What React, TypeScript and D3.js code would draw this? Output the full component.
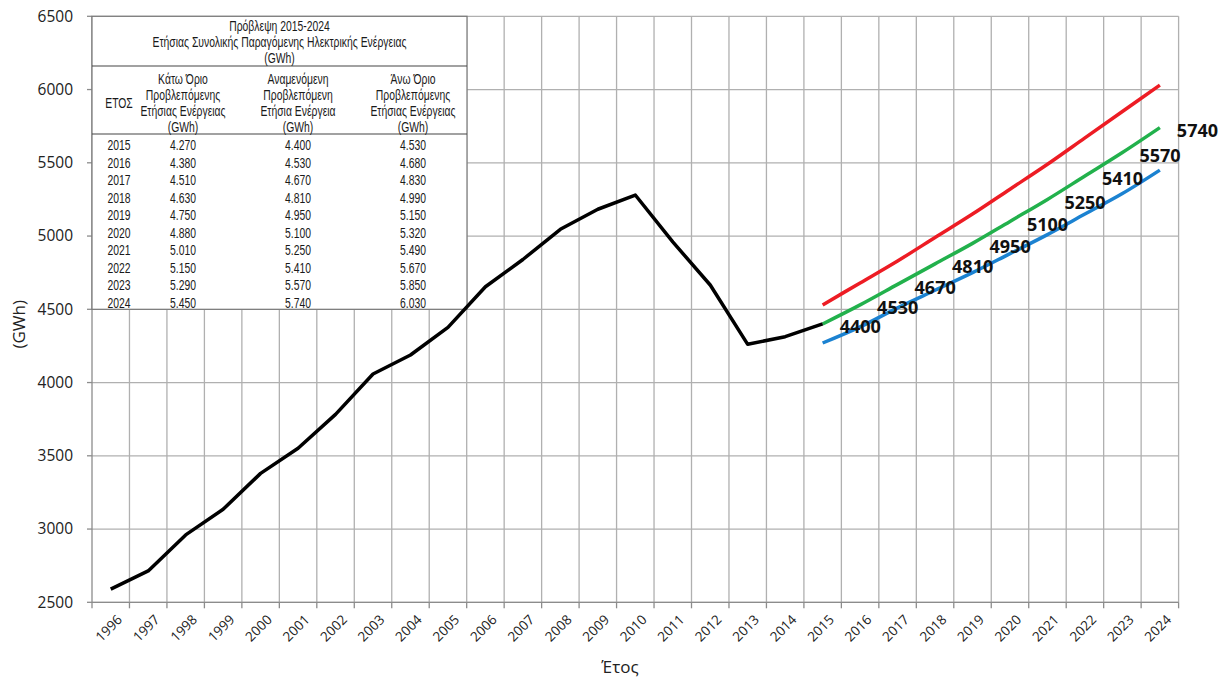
import React from "react";
import * as d3 from "d3";

const years = d3.range(1996, 2025).map(String);
const histYears = d3.range(1996, 2016).map(String);
const histValues = [2590, 2714, 2960, 3135, 3380, 3551, 3783, 4058, 4188, 4377, 4654, 4840, 5046, 5183, 5280, 4960, 4666, 4261, 4313, 4400];
const fcYears = d3.range(2015, 2025).map(String);
const lowValues = [4270, 4380, 4510, 4630, 4750, 4880, 5010, 5150, 5290, 5450];
const expValues = [4400, 4530, 4670, 4810, 4950, 5100, 5250, 5410, 5570, 5740];
const highValues = [4530, 4680, 4830, 4990, 5150, 5320, 5490, 5670, 5850, 6030];
const yTicks = d3.range(2500, 6501, 500);

const tableTitle = ["Πρόβλεψη 2015-2024", "Ετήσιας Συνολικής Παραγόμενης Ηλεκτρικής Ενέργειας", "(GWh)"];
const colHeaders = [
  ["ΕΤΟΣ"],
  ["Κάτω Όριο", "Προβλεπόμενης", "Ετήσιας Ενέργειας", "(GWh)"],
  ["Αναμενόμενη", "Προβλεπόμενη", "Ετήσια Ενέργεια", "(GWh)"],
  ["Άνω Όριο", "Προβλεπόμενης", "Ετήσιας Ενέργειας", "(GWh)"],
];
const fmt = (v: number) => (v / 1000).toFixed(3);

export default function App() {
  const W = 1218, H = 686;
  const left = 92, right = 1178.6, top = 16.3, bottom = 602.3;
  const x = d3.scaleBand<string>().domain(years).range([left, right]);
  const bw = x.bandwidth();
  const cx = (yr: string) => (x(yr) as number) + bw / 2;
  const y = d3.scaleLinear().domain([2500, 6500]).range([bottom, top]);

  const straight = d3.line<[string, number]>().x(d => cx(d[0])).y(d => y(d[1]));
  const smooth = d3.line<[string, number]>().x(d => cx(d[0])).y(d => y(d[1])).curve(d3.curveCatmullRom.alpha(0.5));
  const zip = (ys: string[], vs: number[]) => ys.map((k, i) => [k, vs[i]] as [string, number]);

  const grid = "#B0B0B0";
  const axisC = "#8C8C8C";
  const tFont = "'Liberation Sans', Arial, sans-serif";
  const font = "'Open Sans', sans-serif";
  const sx = 0.67;
  const tSize = 15.5;

  const tL = left, tR = 467, tT = top, tB = y(4500);
  const colX = [119, 183, 298, 413];
  const rowY0 = 145, rowStep = 17.5;

  const TT = (props: { x: number; y: number; s: string; k: string }) => (
    <text key={props.k} transform={`translate(${props.x},${props.y}) scale(${sx},1)`} dy="0.35em" textAnchor="middle" fontFamily={tFont} fontSize={tSize} fill="#1a1a1a">{props.s}</text>
  );

  return (
    <svg width={W} height={H} style={{ position: "absolute", left: 0, top: 0, background: "#fff" }}>
      {yTicks.map(t => (
        <line key={"h" + t} x1={left} x2={right} y1={y(t)} y2={y(t)} stroke={grid} strokeWidth={1.3} />
      ))}
      {years.map(yr => (
        <line key={"v" + yr} x1={(x(yr) as number) + bw} x2={(x(yr) as number) + bw} y1={top} y2={bottom} stroke={grid} strokeWidth={1.3} />
      ))}
      <line x1={left} x2={left} y1={top} y2={bottom} stroke={axisC} strokeWidth={1.3} />
      <line x1={left} x2={right} y1={bottom} y2={bottom} stroke={axisC} strokeWidth={1.3} />
      {yTicks.map(t => (
        <g key={"yt" + t}>
          <line x1={left - 5} x2={left} y1={y(t)} y2={y(t)} stroke={axisC} strokeWidth={1.3} />
          <text x={73} y={y(t)} dy="0.35em" textAnchor="end" fontFamily={font} fontSize={15.5} fill="#222">{t}</text>
        </g>
      ))}
      <line x1={left} x2={left} y1={bottom} y2={bottom + 6} stroke={axisC} strokeWidth={1.3} />
      {years.map(yr => (
        <g key={"xt" + yr}>
          <line x1={(x(yr) as number) + bw} x2={(x(yr) as number) + bw} y1={bottom} y2={bottom + 6} stroke={axisC} strokeWidth={1.3} />
          <text transform={`translate(${cx(yr) + 9},${bottom + 15}) rotate(-45)`} textAnchor="end" dy="0.35em" fontFamily={font} fontSize={13.5} fill="#222">{yr}</text>
        </g>
      ))}
      <text x={620} y={673} textAnchor="middle" fontFamily={font} fontSize={17} fill="#222">Έτος</text>
      <text transform={`translate(19,${(top + bottom) / 2 + 15}) rotate(-90)`} textAnchor="middle" dy="0.35em" fontFamily={font} fontSize={17} fill="#222">(GWh)</text>

      {/* table */}
      <rect x={tL} y={tT} width={tR - tL} height={tB - tT} fill="#fff" stroke="#777" strokeWidth={1.2} />
      <line x1={tL} x2={tR} y1={66} y2={66} stroke="#444" strokeWidth={1.2} />
      <line x1={tL} x2={tR} y1={134} y2={134} stroke="#444" strokeWidth={1.2} />
      {tableTitle.map((s, i) => TT({ k: "tt" + i, x: (tL + tR) / 2, y: 26 + i * 16, s }))}
      {colHeaders.map((lines, c) => lines.map((s, i) =>
        TT({ k: "ch" + c + "_" + i, x: colX[c], y: lines.length === 1 ? 103 : 79 + i * 16, s })
      ))}
      {fcYears.map((yr, r) => (
        <g key={"row" + yr}>
          {TT({ k: "a", x: colX[0], y: rowY0 + r * rowStep, s: yr })}
          {TT({ k: "b", x: colX[1], y: rowY0 + r * rowStep, s: fmt(lowValues[r]) })}
          {TT({ k: "c", x: colX[2], y: rowY0 + r * rowStep, s: fmt(expValues[r]) })}
          {TT({ k: "d", x: colX[3], y: rowY0 + r * rowStep, s: fmt(highValues[r]) })}
        </g>
      ))}

      {/* lines */}
      <path d={smooth(zip(fcYears, highValues)) as string} fill="none" stroke="#ED1C24" strokeWidth={3.5} />
      <path d={smooth(zip(fcYears, lowValues)) as string} fill="none" stroke="#1B82D1" strokeWidth={3.5} />
      <path d={smooth(zip(fcYears, expValues)) as string} fill="none" stroke="#22B14C" strokeWidth={3.5} />
      <path d={straight(zip(histYears, histValues)) as string} fill="none" stroke="#000" strokeWidth={3.5} strokeLinejoin="round" />

      {/* data labels */}
      {fcYears.map((yr, i) => (
        <text key={"dl" + yr} x={cx(yr) + 17} y={y(expValues[i]) + 3} dy="0.35em" fontFamily={font} fontWeight="bold" fontSize={18} fill="#111">{expValues[i]}</text>
      ))}
    </svg>
  );
}
